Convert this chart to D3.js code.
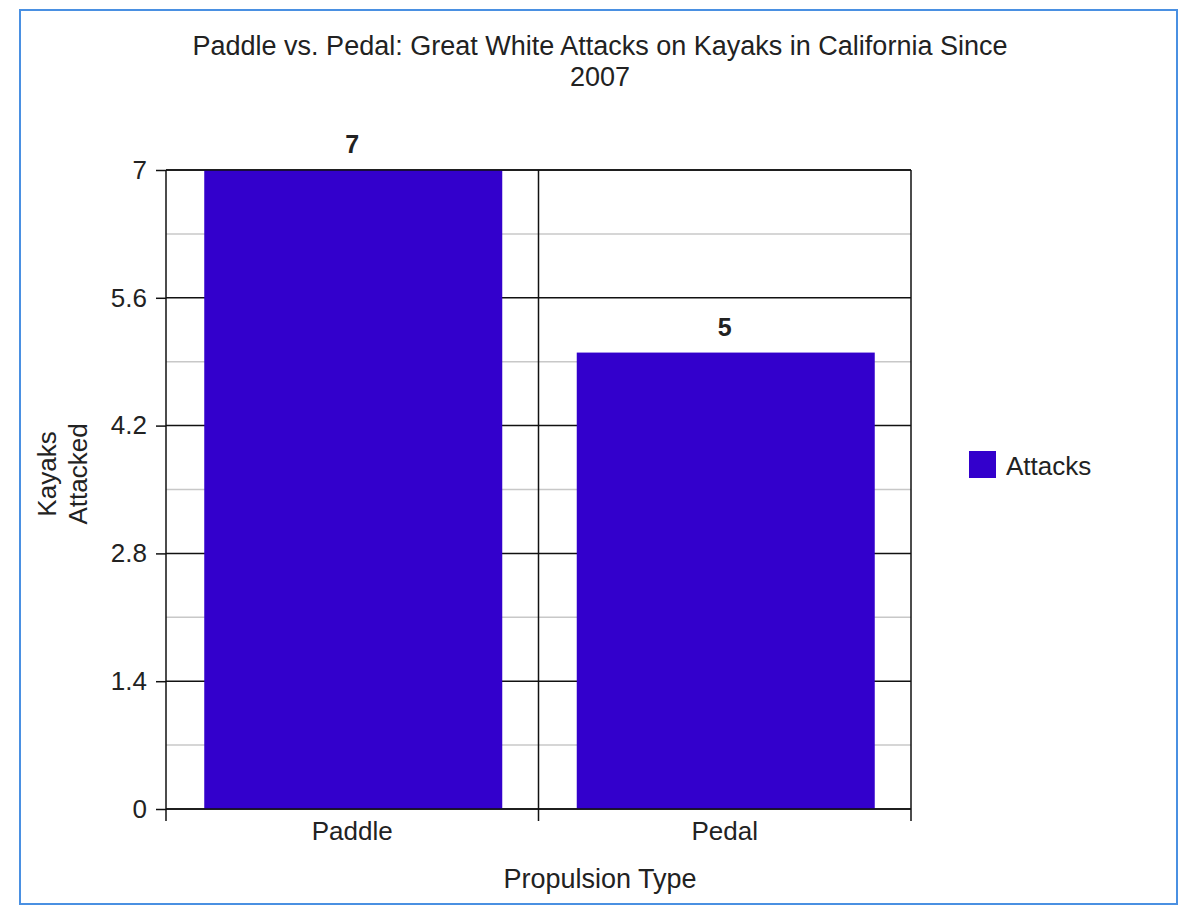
<!DOCTYPE html>
<html>
<head>
<meta charset="utf-8">
<script src="https://cdn.jsdelivr.net/npm/d3@7"></script>
<style>
  body { margin: 0; background: #fff; }
  svg text { font-family: "Liberation Sans", Arial, sans-serif; fill: #222; }
</style>
</head>
<body>
<div id="chart"></div>
<script>
// Data
const categories = ["Paddle", "Pedal"];
const attacks = [7, 5];
const yTicks = [0, 1.4, 2.8, 4.2, 5.6, 7];
const yMinorTicks = [0.7, 2.1, 3.5, 4.9, 6.3];
const titleLines = ["Paddle vs. Pedal: Great White Attacks on Kayaks in California Since", "2007"];
const seriesName = "Attacks";

const width = 1200, height = 921;
const plot = { left: 166, right: 911, top: 170, bottom: 809 };
const barColor = "#3300cc";

const svg = d3.select("#chart")
    .append("svg")
    .attr("width", width)
    .attr("height", height);

// Outer frame
svg.append("rect")
    .attr("x", 20).attr("y", 10)
    .attr("width", 1157).attr("height", 894)
    .attr("fill", "none")
    .attr("stroke", "#4a90e2")
    .attr("stroke-width", 2);

// Scales
const xScale = d3.scaleBand()
    .domain(categories)
    .range([plot.left, plot.right])
    .padding(0);

const yScale = d3.scaleLinear()
    .domain([0, 7])
    .range([plot.bottom, plot.top]);

// Minor gridlines
svg.append("g")
    .selectAll("line")
    .data(yMinorTicks)
    .enter()
    .append("line")
    .attr("x1", plot.left).attr("x2", plot.right)
    .attr("y1", d => yScale(d)).attr("y2", d => yScale(d))
    .attr("stroke", "#c8c8c8")
    .attr("stroke-width", 1.5);

// Major gridlines
svg.append("g")
    .selectAll("line")
    .data(yTicks)
    .enter()
    .append("line")
    .attr("x1", plot.left).attr("x2", plot.right)
    .attr("y1", d => yScale(d)).attr("y2", d => yScale(d))
    .attr("stroke", "#111")
    .attr("stroke-width", 1.5);

// Bars
const inset = xScale.bandwidth() * 0.1;
svg.append("g")
    .selectAll("rect")
    .data(attacks)
    .enter()
    .append("rect")
    .attr("x", (d, i) => xScale(categories[i]) + inset + 1)
    .attr("y", d => yScale(d))
    .attr("width", xScale.bandwidth() - 2 * inset)
    .attr("height", d => yScale(0) - yScale(d))
    .attr("fill", barColor);

// Plot frame & category separators
const xEdges = categories.map(c => xScale(c)).concat([plot.right]);
svg.append("g")
    .selectAll("line")
    .data(xEdges)
    .enter()
    .append("line")
    .attr("x1", d => d).attr("x2", d => d)
    .attr("y1", plot.top).attr("y2", plot.bottom + 12)
    .attr("stroke", "#111")
    .attr("stroke-width", 1.5);

svg.append("line")
    .attr("x1", plot.left).attr("x2", plot.right)
    .attr("y1", yScale(7)).attr("y2", yScale(7))
    .attr("stroke", "#111").attr("stroke-width", 1.5);
svg.append("line")
    .attr("x1", plot.left).attr("x2", plot.right)
    .attr("y1", yScale(0)).attr("y2", yScale(0))
    .attr("stroke", "#111").attr("stroke-width", 1.5);

// Y axis
const yAxis = svg.append("g")
    .attr("transform", `translate(${plot.left},0)`)
    .call(d3.axisLeft(yScale).tickValues(yTicks).tickSize(10).tickPadding(9)
        .tickFormat(d => d3.format("~g")(d)));
yAxis.select(".domain").remove();
yAxis.selectAll(".tick line").attr("stroke", "#111").attr("stroke-width", 1.5);
yAxis.selectAll("text").style("font-size", "26px").attr("fill", "#222");

// X labels
svg.append("g")
    .selectAll("text")
    .data(categories)
    .enter()
    .append("text")
    .attr("x", d => xScale(d) + xScale.bandwidth() / 2)
    .attr("y", 840)
    .attr("text-anchor", "middle")
    .style("font-size", "26px")
    .text(d => d);

// Value labels
svg.append("g")
    .selectAll("text")
    .data(attacks)
    .enter()
    .append("text")
    .attr("x", (d, i) => xScale(categories[i]) + xScale.bandwidth() / 2)
    .attr("y", d => yScale(d) - 17)
    .attr("text-anchor", "middle")
    .style("font-size", "25px")
    .style("font-weight", "bold")
    .text(d => d);

// Title
svg.append("g")
    .selectAll("text")
    .data(titleLines)
    .enter()
    .append("text")
    .attr("x", 600)
    .attr("y", (d, i) => 55 + i * 31)
    .attr("text-anchor", "middle")
    .style("font-size", "27px")
    .text(d => d);

// Axis titles
svg.append("text")
    .attr("x", 600).attr("y", 888)
    .attr("text-anchor", "middle")
    .style("font-size", "27px")
    .text("Propulsion Type");

const yTitle = svg.append("text")
    .attr("transform", "translate(0,474) rotate(-90)")
    .attr("text-anchor", "middle")
    .style("font-size", "26px");
yTitle.append("tspan").attr("x", 0).attr("y", 56).text("Kayaks");
yTitle.append("tspan").attr("x", 0).attr("y", 87).text("Attacked");

// Legend
const legend = svg.append("g").attr("transform", "translate(969,451)");
legend.append("rect")
    .attr("width", 27).attr("height", 27)
    .attr("fill", barColor);
legend.append("text")
    .attr("x", 37).attr("y", 24)
    .style("font-size", "26px")
    .text(seriesName);
</script>
</body>
</html>
